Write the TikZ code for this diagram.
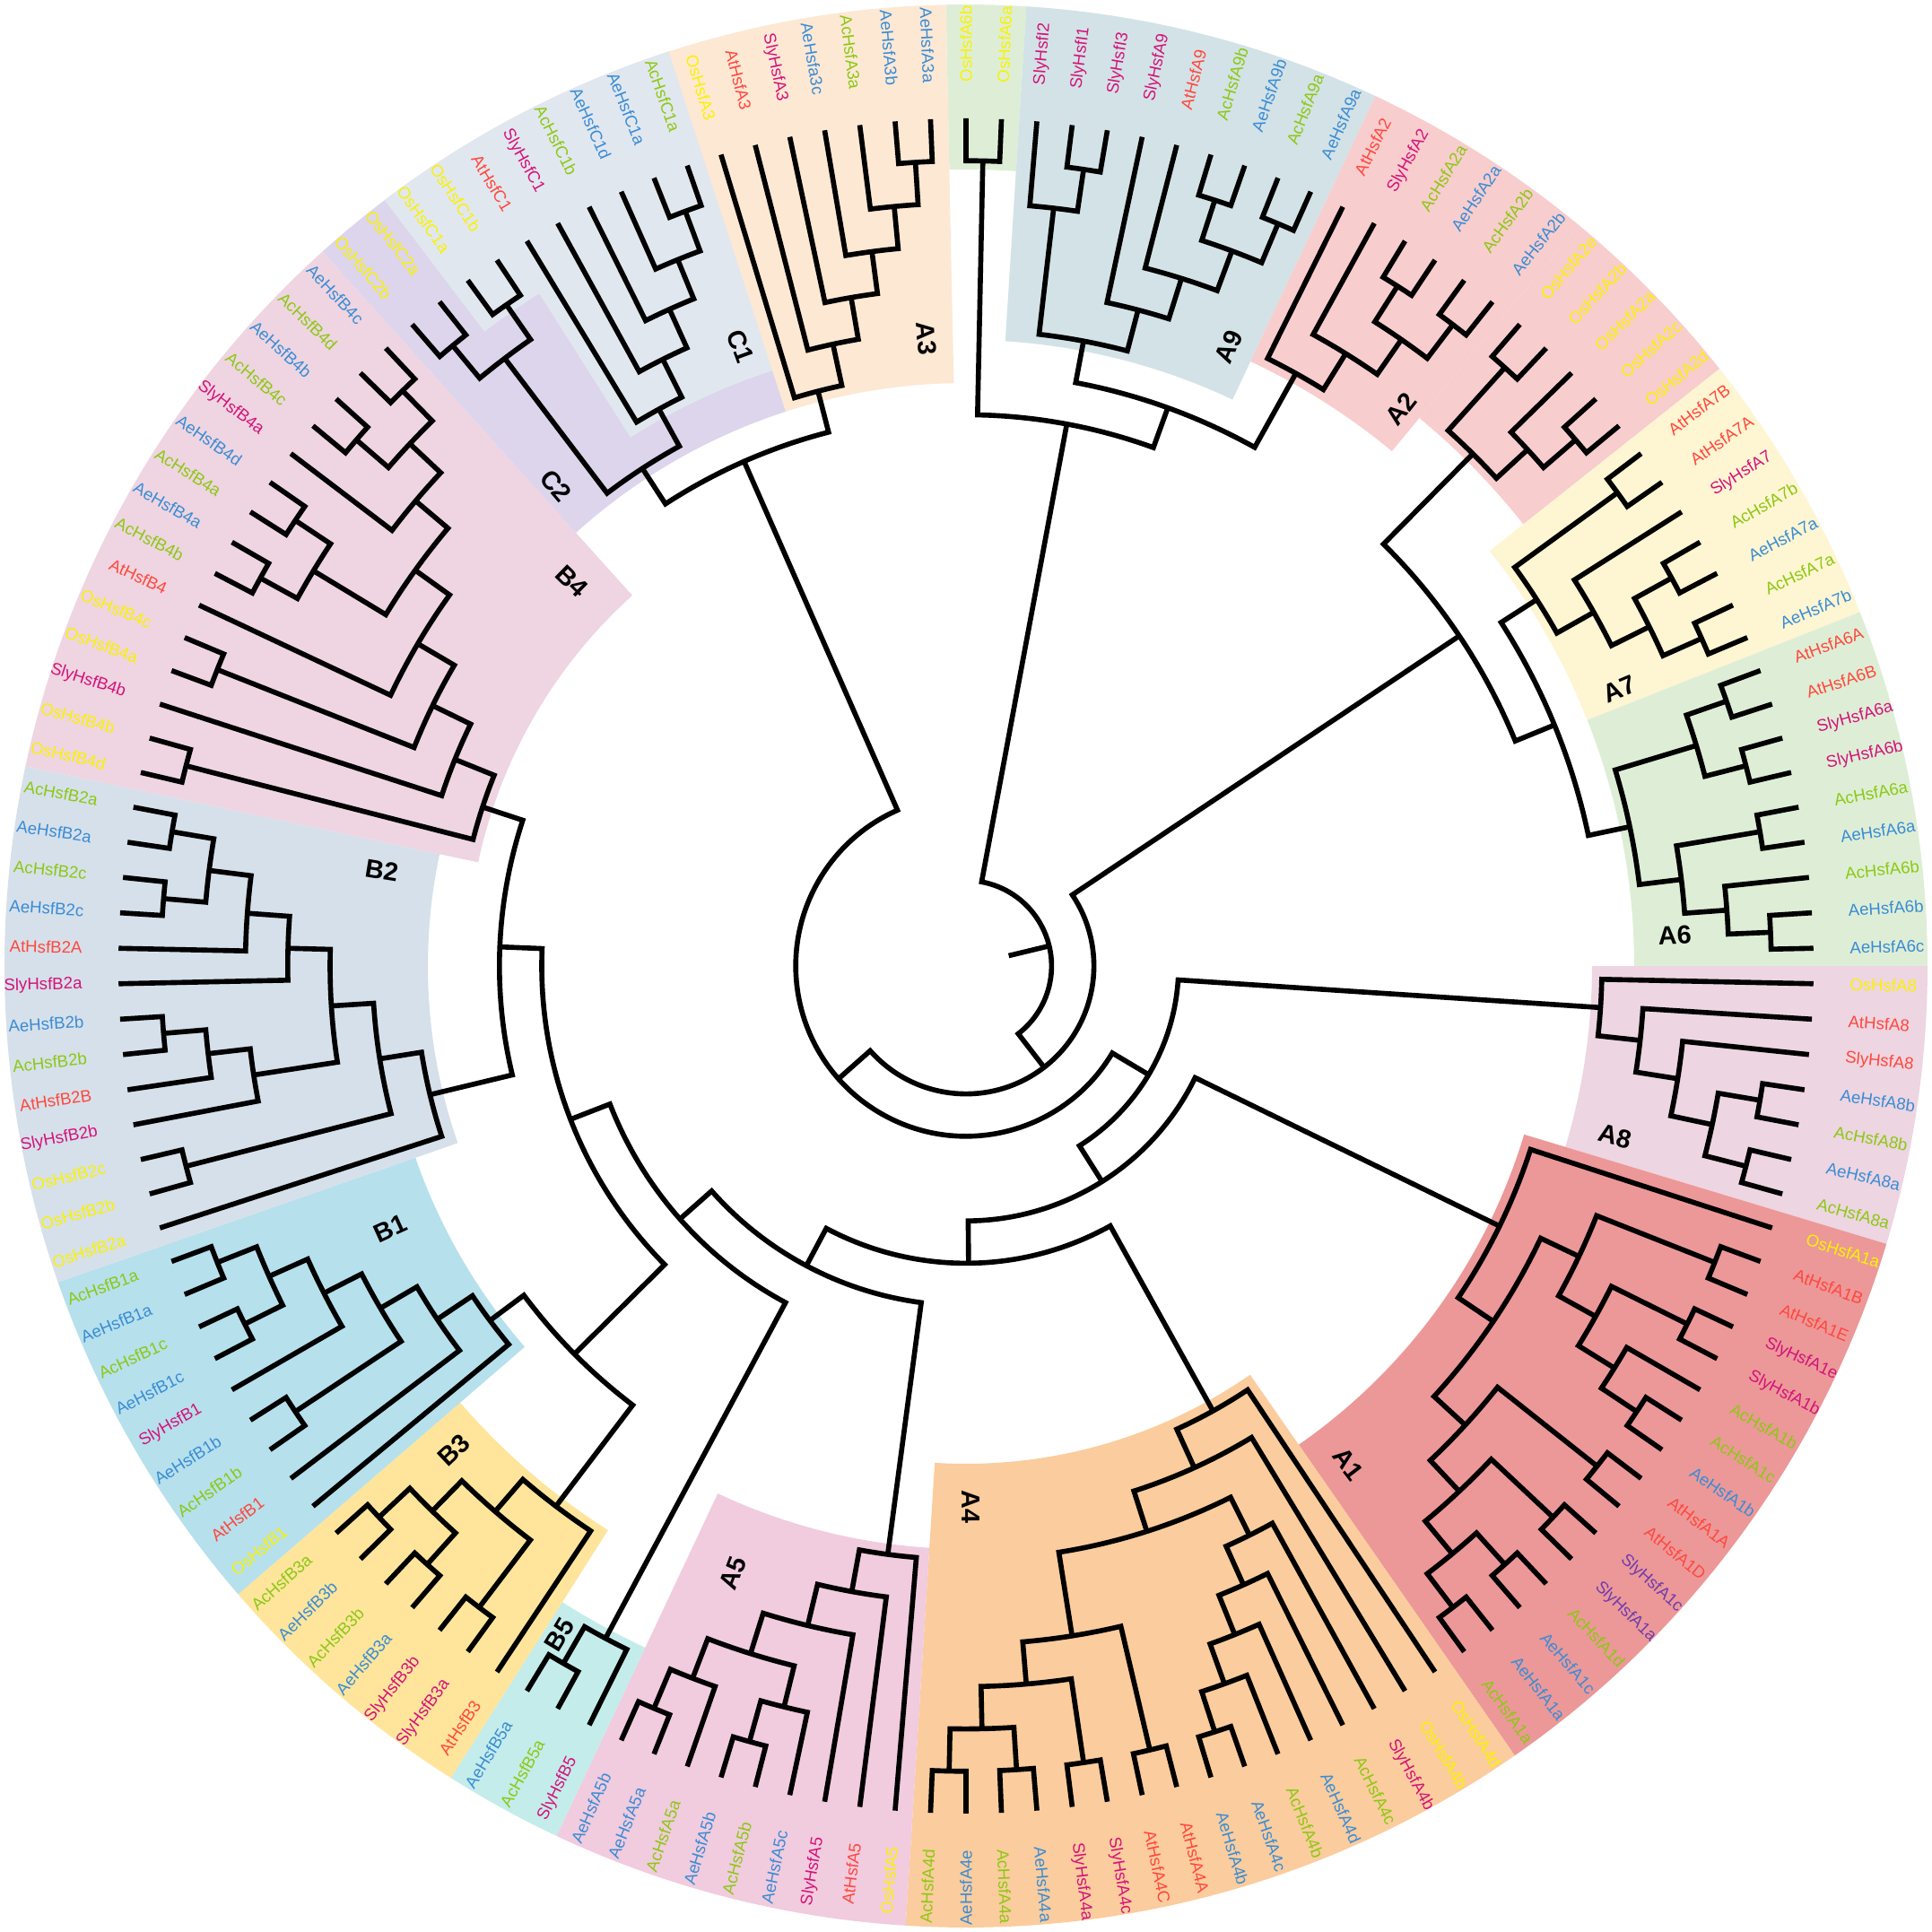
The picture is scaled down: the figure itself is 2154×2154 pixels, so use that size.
\documentclass[tikz,border=0pt]{standalone}
\usepackage{fontspec}
\setmainfont{Liberation Sans}
\definecolor{cOs}{RGB}{250,242,0}
\definecolor{cAt}{RGB}{255,72,62}
\definecolor{cSly}{RGB}{212,20,122}
\definecolor{cAc}{RGB}{140,200,20}
\definecolor{cAe}{RGB}{58,140,212}
\definecolor{cPu}{RGB}{112,60,172}
\definecolor{sA6}{RGB}{222,238,214}
\definecolor{sA9}{RGB}{211,226,230}
\definecolor{sA2}{RGB}{248,205,205}
\definecolor{sA7}{RGB}{254,245,210}
\definecolor{sA8}{RGB}{237,213,225}
\definecolor{sA1}{RGB}{236,152,152}
\definecolor{sA4}{RGB}{251,204,157}
\definecolor{sA5}{RGB}{241,203,222}
\definecolor{sB5}{RGB}{196,236,234}
\definecolor{sB3}{RGB}{254,229,155}
\definecolor{sB1}{RGB}{182,224,236}
\definecolor{sB2}{RGB}{214,224,234}
\definecolor{sB4}{RGB}{238,213,225}
\definecolor{sC2}{RGB}{220,213,236}
\definecolor{sC1}{RGB}{225,231,239}
\definecolor{sA3}{RGB}{253,232,212}
\tikzset{
  br/.style={line width=1.6pt,black},
  lab/.style={font=\fontsize{5.3}{6}\selectfont,inner sep=0pt},
  clab/.style={font=\fontsize{8.2}{9}\selectfont\bfseries,inner sep=0pt}
}
% leaf: index, text, colour
\newcommand{\lf}[3]{%
  \pgfmathsetmacro{\lfa}{90-(#1-1)*2.4}%
  \expandafter\xdef\csname angXL#1\endcsname{\lfa}%
  \expandafter\xdef\csname radXL#1\endcsname{945}%
  \expandafter\xdef\csname hgtXL#1\endcsname{0}%
  \ifdim\lfa pt<-89.9pt
    \pgfmathsetmacro{\lfr}{\lfa+180}%
    \node[lab,text=#3,anchor=east,rotate=\lfr] (L#1) at (\lfa:985) {#2};%
  \else
    \node[lab,text=#3,anchor=west,rotate=\lfa] (L#1) at (\lfa:985) {#2};%
  \fi}
% internal node: name, child1, child2
\newcommand{\nd}[3]{%
  \edef\ndA{\csname angX#2\endcsname}%
  \edef\ndB{\csname angX#3\endcsname}%
  \edef\ndRa{\csname radX#2\endcsname}%
  \edef\ndRb{\csname radX#3\endcsname}%
  \edef\ndHa{\csname hgtX#2\endcsname}%
  \edef\ndHb{\csname hgtX#3\endcsname}%
  \pgfmathtruncatemacro{\ndH}{1+max(\ndHa,\ndHb)}%
  \pgfmathsetmacro{\ndR}{945-47.2*\ndH}%
  \pgfmathsetmacro{\ndM}{(\ndA+\ndB)/2}%
  \expandafter\xdef\csname angX#1\endcsname{\ndM}%
  \expandafter\xdef\csname radX#1\endcsname{\ndR}%
  \expandafter\xdef\csname hgtX#1\endcsname{\ndH}%
  \draw[br] (\ndA:\ndRa) -- (\ndA:\ndR) arc[start angle=\ndA,end angle=\ndB,radius=\ndR] -- (\ndB:\ndRb);%
  \coordinate (#1) at (\ndM:\ndR);}
% sector: colour, first leaf, last leaf, inner radius
\newcommand{\sect}[4]{%
  \pgfmathsetmacro{\sa}{90-(#2-1)*2.4+1.2}%
  \pgfmathsetmacro{\sb}{90-(#3-1)*2.4-1.2}%
  \fill[#1] (\sa:#4) arc[start angle=\sa,end angle=\sb,radius=#4] -- (\sb:1072) arc[start angle=\sb,end angle=\sa,radius=1072] -- cycle;}
\newcommand{\clade}[3]{% text, angle, radius
  \pgfmathsetmacro{\cla}{#2}%
  \ifdim\cla pt>90pt
    \pgfmathsetmacro{\clr}{\cla-180}%
  \else
    \pgfmathsetmacro{\clr}{\cla}%
  \fi
  \node[clab,rotate=\clr] (cl#1) at (\cla:#3) {#1};}
\begin{document}
\begin{tikzpicture}[x=0.01cm,y=0.01cm]
\fill[white] (-1077,-1077) rectangle (1077,1077);
\useasboundingbox (-1077,-1077) rectangle (1077,1077);
% background sectors
\sect{sA6}{1}{2}{888}
\sect{sA9}{3}{11}{698}
\sect{sA2}{12}{17}{745}
\sect{sA2}{18}{22}{793}
\sect{sA7}{23}{29}{745}
\sect{sA6}{30}{38}{745}
\sect{sA8}{39}{45}{698}
\sect{sA1}{46}{61}{650}
\sect{sA4}{62}{77}{555}
\sect{sA5}{78}{86}{650}
\sect{sB5}{87}{89}{840}
\sect{sB3}{90}{96}{745}
\sect{sB1}{97}{105}{650}
\sect{sB2}{106}{118}{600}
\sect{sB4}{119}{133}{556}
\sect{sC2}{134}{143}{650}
\sect{sC1}{136}{137}{888}
\sect{sC1}{138}{143}{698}
\sect{sA3}{144}{150}{650}
% leaves
\lf{1}{OsHsfA6b}{cOs}
\lf{2}{OsHsfA6a}{cOs}
\lf{3}{SlyHsfI2}{cSly}
\lf{4}{SlyHsfI1}{cSly}
\lf{5}{SlyHsfI3}{cSly}
\lf{6}{SlyHsfA9}{cSly}
\lf{7}{AtHsfA9}{cAt}
\lf{8}{AcHsfA9b}{cAc}
\lf{9}{AeHsfA9b}{cAe}
\lf{10}{AcHsfA9a}{cAc}
\lf{11}{AeHsfA9a}{cAe}
\lf{12}{AtHsfA2}{cAt}
\lf{13}{SlyHsfA2}{cSly}
\lf{14}{AcHsfA2a}{cAc}
\lf{15}{AeHsfA2a}{cAe}
\lf{16}{AcHsfA2b}{cAc}
\lf{17}{AeHsfA2b}{cAe}
\lf{18}{OsHsfA2e}{cOs}
\lf{19}{OsHsfA2b}{cOs}
\lf{20}{OsHsfA2a}{cOs}
\lf{21}{OsHsfA2c}{cOs}
\lf{22}{OsHsfA2d}{cOs}
\lf{23}{AtHsfA7B}{cAt}
\lf{24}{AtHsfA7A}{cAt}
\lf{25}{SlyHsfA7}{cSly}
\lf{26}{AcHsfA7b}{cAc}
\lf{27}{AeHsfA7a}{cAe}
\lf{28}{AcHsfA7a}{cAc}
\lf{29}{AeHsfA7b}{cAe}
\lf{30}{AtHsfA6A}{cAt}
\lf{31}{AtHsfA6B}{cAt}
\lf{32}{SlyHsfA6a}{cSly}
\lf{33}{SlyHsfA6b}{cSly}
\lf{34}{AcHsfA6a}{cAc}
\lf{35}{AeHsfA6a}{cAe}
\lf{36}{AcHsfA6b}{cAc}
\lf{37}{AeHsfA6b}{cAe}
\lf{38}{AeHsfA6c}{cAe}
\lf{39}{OsHsfA8}{cOs}
\lf{40}{AtHsfA8}{cAt}
\lf{41}{SlyHsfA8}{cAt}
\lf{42}{AeHsfA8b}{cAe}
\lf{43}{AcHsfA8b}{cAc}
\lf{44}{AeHsfA8a}{cAe}
\lf{45}{AcHsfA8a}{cAc}
\lf{46}{OsHsfA1a}{cOs}
\lf{47}{AtHsfA1B}{cAt}
\lf{48}{AtHsfA1E}{cAt}
\lf{49}{SlyHsfA1e}{cSly}
\lf{50}{SlyHsfA1b}{cSly}
\lf{51}{AcHsfA1b}{cAc}
\lf{52}{AcHsfA1c}{cAc}
\lf{53}{AeHsfA1b}{cAe}
\lf{54}{AtHsfA1A}{cAt}
\lf{55}{AtHsfA1D}{cAt}
\lf{56}{SlyHsfA1c}{cPu}
\lf{57}{SlyHsfA1a}{cPu}
\lf{58}{AcHsfA1d}{cAc}
\lf{59}{AeHsfA1c}{cAe}
\lf{60}{AeHsfA1a}{cAe}
\lf{61}{AcHsfA1a}{cAc}
\lf{62}{OsHsfA4d}{cOs}
\lf{63}{OsHsfA4b}{cOs}
\lf{64}{SlyHsfA4b}{cSly}
\lf{65}{AcHsfA4c}{cAc}
\lf{66}{AeHsfA4d}{cAe}
\lf{67}{AcHsfA4b}{cAc}
\lf{68}{AeHsfA4c}{cAe}
\lf{69}{AeHsfA4b}{cAe}
\lf{70}{AtHsfA4A}{cAt}
\lf{71}{AtHsfA4C}{cAt}
\lf{72}{SlyHsfA4c}{cSly}
\lf{73}{SlyHsfA4a}{cSly}
\lf{74}{AeHsfA4a}{cAe}
\lf{75}{AcHsfA4a}{cAc}
\lf{76}{AeHsfA4e}{cAe}
\lf{77}{AcHsfA4d}{cAc}
\lf{78}{OsHsfA5}{cOs}
\lf{79}{AtHsfA5}{cAt}
\lf{80}{SlyHsfA5}{cSly}
\lf{81}{AeHsfA5c}{cAe}
\lf{82}{AcHsfA5b}{cAc}
\lf{83}{AeHsfA5b}{cAe}
\lf{84}{AcHsfA5a}{cAc}
\lf{85}{AeHsfA5a}{cAe}
\lf{86}{AeHsfA5b}{cAe}
\lf{87}{SlyHsfB5}{cSly}
\lf{88}{AcHsfB5a}{cAc}
\lf{89}{AeHsfB5a}{cAe}
\lf{90}{AtHsfB3}{cAt}
\lf{91}{SlyHsfB3a}{cSly}
\lf{92}{SlyHsfB3b}{cSly}
\lf{93}{AeHsfB3a}{cAe}
\lf{94}{AcHsfB3b}{cAc}
\lf{95}{AeHsfB3b}{cAe}
\lf{96}{AcHsfB3a}{cAc}
\lf{97}{OsHsfB1}{cOs}
\lf{98}{AtHsfB1}{cAt}
\lf{99}{AcHsfB1b}{cAc}
\lf{100}{AeHsfB1b}{cAe}
\lf{101}{SlyHsfB1}{cSly}
\lf{102}{AeHsfB1c}{cAe}
\lf{103}{AcHsfB1c}{cAc}
\lf{104}{AeHsfB1a}{cAe}
\lf{105}{AcHsfB1a}{cAc}
\lf{106}{OsHsfB2a}{cOs}
\lf{107}{OsHsfB2b}{cOs}
\lf{108}{OsHsfB2c}{cOs}
\lf{109}{SlyHsfB2b}{cSly}
\lf{110}{AtHsfB2B}{cAt}
\lf{111}{AcHsfB2b}{cAc}
\lf{112}{AeHsfB2b}{cAe}
\lf{113}{SlyHsfB2a}{cSly}
\lf{114}{AtHsfB2A}{cAt}
\lf{115}{AeHsfB2c}{cAe}
\lf{116}{AcHsfB2c}{cAc}
\lf{117}{AeHsfB2a}{cAe}
\lf{118}{AcHsfB2a}{cAc}
\lf{119}{OsHsfB4d}{cOs}
\lf{120}{OsHsfB4b}{cOs}
\lf{121}{SlyHsfB4b}{cSly}
\lf{122}{OsHsfB4a}{cOs}
\lf{123}{OsHsfB4c}{cOs}
\lf{124}{AtHsfB4}{cAt}
\lf{125}{AcHsfB4b}{cAc}
\lf{126}{AeHsfB4a}{cAe}
\lf{127}{AcHsfB4a}{cAc}
\lf{128}{AeHsfB4d}{cAe}
\lf{129}{SlyHsfB4a}{cSly}
\lf{130}{AcHsfB4c}{cAc}
\lf{131}{AeHsfB4b}{cAe}
\lf{132}{AcHsfB4d}{cAc}
\lf{133}{AeHsfB4c}{cAe}
\lf{134}{OsHsfC2b}{cOs}
\lf{135}{OsHsfC2a}{cOs}
\lf{136}{OsHsfC1a}{cOs}
\lf{137}{OsHsfC1b}{cOs}
\lf{138}{AtHsfC1}{cAt}
\lf{139}{SlyHsfC1}{cSly}
\lf{140}{AcHsfC1b}{cAc}
\lf{141}{AeHsfC1d}{cAe}
\lf{142}{AeHsfC1a}{cAe}
\lf{143}{AcHsfC1a}{cAc}
\lf{144}{OsHsfA3}{cOs}
\lf{145}{AtHsfA3}{cAt}
\lf{146}{SlyHsfA3}{cSly}
\lf{147}{AeHsfa3c}{cAe}
\lf{148}{AcHsfA3a}{cAc}
\lf{149}{AeHsfA3b}{cAe}
\lf{150}{AeHsfA3a}{cAe}
% tree: top
\nd{a6t}{L1}{L2}
\nd{a9a}{L4}{L5}
\nd{a9b}{L3}{a9a}
\nd{a9c}{L8}{L9}
\nd{a9d}{L10}{L11}
\nd{a9e}{a9c}{a9d}
\nd{a9f}{L7}{a9e}
\nd{a9g}{L6}{a9f}
\nd{a9}{a9b}{a9g}
\nd{a2a}{L14}{L15}
\nd{a2b}{L16}{L17}
\nd{a2c}{a2a}{a2b}
\nd{a2d}{L13}{a2c}
\nd{a2}{L12}{a2d}
\nd{Y}{a9}{a2}
\nd{X}{a6t}{Y}
\nd{o2a}{L18}{L19}
\nd{o2b}{L21}{L22}
\nd{o2c}{L20}{o2b}
\nd{o2}{o2a}{o2c}
\nd{a7a}{L23}{L24}
\nd{a7b}{L26}{L27}
\nd{a7c}{L28}{L29}
\nd{a7d}{a7b}{a7c}
\nd{a7e}{L25}{a7d}
\nd{a7}{a7a}{a7e}
\nd{a6a}{L30}{L31}
\nd{a6b}{L32}{L33}
\nd{a6c}{a6a}{a6b}
\nd{a6d}{L34}{L35}
\nd{a6e}{L37}{L38}
\nd{a6f}{L36}{a6e}
\nd{a6g}{a6d}{a6f}
\nd{a6}{a6c}{a6g}
\nd{J}{a7}{a6}
\nd{K}{o2}{J}
\nd{a8a}{L42}{L43}
\nd{a8b}{L44}{L45}
\nd{a8c}{a8a}{a8b}
\nd{a8d}{L41}{a8c}
\nd{a8e}{L40}{a8d}
\nd{a8}{L39}{a8e}
% A1
\nd{p1}{L47}{L48}
\nd{p2}{L49}{L50}
\nd{p3}{L52}{L53}
\nd{e1}{L51}{p3}
\nd{d1}{p2}{e1}
\nd{c1}{p1}{d1}
\nd{p4}{L54}{L55}
\nd{p5}{L56}{L57}
\nd{p6}{L58}{L59}
\nd{p7}{L60}{L61}
\nd{hA}{p6}{p7}
\nd{g1}{p5}{hA}
\nd{f1}{p4}{g1}
\nd{bA}{c1}{f1}
\nd{a1}{L46}{bA}
% A4
\nd{q1}{L68}{L69}
\nd{q2}{L67}{q1}
\nd{q3}{L66}{q2}
\nd{q4}{L65}{q3}
\nd{q5}{L64}{q4}
\nd{r1}{L70}{L71}
\nd{r2}{L72}{L73}
\nd{r3}{L74}{L75}
\nd{r4}{L76}{L77}
\nd{r5}{r3}{r4}
\nd{r6}{r2}{r5}
\nd{r7}{r1}{r6}
\nd{m4}{q5}{r7}
\nd{n4}{L63}{m4}
\nd{a4}{L62}{n4}
% A5
\nd{s1}{L82}{L83}
\nd{s2}{L81}{s1}
\nd{s3}{L85}{L86}
\nd{s4}{L84}{s3}
\nd{s5}{s2}{s4}
\nd{s6}{L80}{s5}
\nd{s7}{L79}{s6}
\nd{a5}{L78}{s7}
% B5
\nd{t1}{L88}{L89}
\nd{b5}{L87}{t1}
% B3
\nd{u1}{L91}{L92}
\nd{u2}{L93}{L94}
\nd{u3}{L95}{L96}
\nd{u4}{u2}{u3}
\nd{u5}{u1}{u4}
\nd{b3}{L90}{u5}
% B1
\nd{v1}{L99}{L100}
\nd{v2}{L102}{L103}
\nd{v3}{L104}{L105}
\nd{v4}{v2}{v3}
\nd{v5}{L101}{v4}
\nd{v6}{v1}{v5}
\nd{v7}{L98}{v6}
\nd{bB}{L97}{v7}
% B2
\nd{w1}{L107}{L108}
\nd{w2}{L111}{L112}
\nd{w3}{L110}{w2}
\nd{w4}{L109}{w3}
\nd{w5}{L115}{L116}
\nd{w6}{L117}{L118}
\nd{w7}{w5}{w6}
\nd{w8}{L114}{w7}
\nd{w9}{L113}{w8}
\nd{w10}{w4}{w9}
\nd{w11}{w1}{w10}
\nd{b2}{L106}{w11}
% B4
\nd{x1}{L119}{L120}
\nd{x2}{L122}{L123}
\nd{x3}{L125}{L126}
\nd{x4}{L127}{L128}
\nd{x5}{x3}{x4}
\nd{x6}{L130}{L131}
\nd{x7}{L132}{L133}
\nd{x8}{x6}{x7}
\nd{x9}{L129}{x8}
\nd{x10}{x5}{x9}
\nd{x11}{L124}{x10}
\nd{x12}{x2}{x11}
\nd{x13}{L121}{x12}
\nd{b4}{x1}{x13}
% C
\nd{y1}{L134}{L135}
\nd{y2}{L136}{L137}
\nd{y3}{y1}{y2}
\nd{z1}{L142}{L143}
\nd{z2}{L141}{z1}
\nd{z3}{L140}{z2}
\nd{z4}{L139}{z3}
\nd{z5}{L138}{z4}
\nd{cn}{y3}{z5}
% A3
\nd{k1}{L149}{L150}
\nd{k2}{L148}{k1}
\nd{k3}{L147}{k2}
\nd{k4}{L146}{k3}
\nd{k5}{L145}{k4}
\nd{a3}{L144}{k5}
\nd{CA}{cn}{a3}
% backbone
\nd{Q}{b2}{b4}
\nd{Nn}{b3}{bB}
\nd{P}{Nn}{Q}
\nd{D}{b5}{P}
\nd{S}{a5}{D}
\nd{T}{a4}{S}
\nd{U}{a1}{T}
\nd{V}{a8}{U}
\nd{W}{V}{CA}
\nd{Z}{K}{W}
\nd{R}{X}{Z}
\edef\rootang{\csname angXR\endcsname}
\coordinate (R0) at (\rootang:49);
\draw[br] (R0) -- (R);
% clade labels
\clade{A3}{93.6}{701}
\clade{C1}{110}{735}
\clade{C2}{130.5}{704}
\clade{B4}{135.7}{614}
\clade{B2}{170.7}{660}
\clade{B1}{204.5}{705}
\clade{B3}{223.4}{786}
\clade{B5}{238.7}{873}
\clade{A5}{249}{725}
\clade{A4}{-89.5}{603}
\clade{A1}{-52.5}{700}
\clade{A8}{-14.7}{748}
\clade{A6}{2.5}{791}
\clade{A7}{23}{791}
\clade{A2}{52}{788}
\clade{A9}{67}{750}
\end{tikzpicture}
\end{document}
